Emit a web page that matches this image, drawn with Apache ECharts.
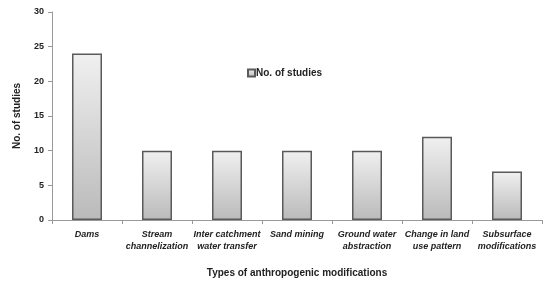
<!DOCTYPE html>
<html>
<head>
<meta charset="utf-8">
<script src="https://cdn.jsdelivr.net/npm/echarts@6/dist/echarts.min.js"></script>
<style>
  html, body { margin: 0; padding: 0; background: #fff; }
  #chart { width: 550px; height: 285px; }
</style>
</head>
<body>
<div id="chart"></div>
<script type="text/javascript">
    // data
    var categories = ['Dams', 'Stream\nchannelization', 'Inter catchment\nwater transfer', 'Sand mining',
        'Ground water\nabstraction', 'Change in land\nuse pattern', 'Subsurface\nmodifications'];
    var studies = [24, 10, 10, 10, 10, 12, 7];
    var seriesName = 'No. of studies';
    var xTitle = 'Types of anthropogenic modifications';
    var yTitle = 'No. of studies';

    var myChart = echarts.init(document.getElementById('chart'));
    var font = 'Liberation Sans';
    var option = {
        animation: false,
        textStyle: { fontFamily: font },
        grid: { left: 52, right: 8, top: 12, bottom: 65 },
        legend: {
            data: [seriesName],
            left: 247, top: 68, padding: 0,
            itemWidth: 7, itemHeight: 7,
            icon: 'rect',
            textStyle: { fontSize: 10, fontWeight: 'bold', color: '#222', padding: [0, 0, 0, -4] }
        },
        xAxis: {
            type: 'category',
            data: categories,
            name: xTitle,
            nameLocation: 'middle',
            nameGap: 48,
            nameTextStyle: { fontSize: 10, fontWeight: 'bold', color: '#222' },
            axisLine: { lineStyle: { color: '#999' } },
            axisTick: { show: true, length: 4, lineStyle: { color: '#999' } },
            axisLabel: {
                interval: 0, fontSize: 9, fontStyle: 'italic', fontWeight: 'bold',
                color: '#222', margin: 9, lineHeight: 12
            }
        },
        yAxis: {
            type: 'value',
            min: 0, max: 30, interval: 5,
            name: yTitle,
            nameLocation: 'middle',
            nameGap: 30,
            nameTextStyle: { fontSize: 10, fontWeight: 'bold', color: '#222' },
            splitLine: { show: false },
            axisLine: { show: true, lineStyle: { color: '#999' } },
            axisTick: { show: true, length: 4, lineStyle: { color: '#999' } },
            axisLabel: { fontSize: 9, fontWeight: 'bold', color: '#222', margin: 8 }
        },
        series: [{
            name: seriesName,
            type: 'bar',
            data: studies,
            barWidth: 30,
            itemStyle: {
                color: new echarts.graphic.LinearGradient(0, 0, 0, 1, [
                    { offset: 0, color: '#f0f0f0' },
                    { offset: 1, color: '#bababa' }
                ]),
                borderColor: '#5a5a5a',
                borderWidth: 1.5
            }
        }]
    };
    myChart.setOption(option);
</script>
</body>
</html>
